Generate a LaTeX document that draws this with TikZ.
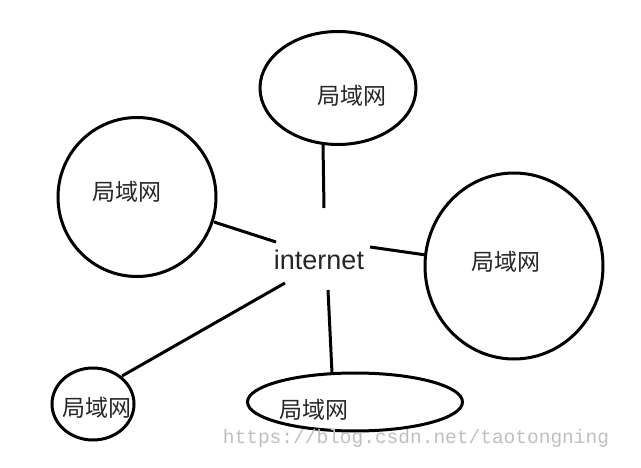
\documentclass[tikz,border=0pt]{standalone}
\usepackage{fontspec}
\setmainfont{Liberation Sans}
\newfontfamily\cjk{Noto Sans CJK SC}
\newfontfamily\wmono{Liberation Mono}
\usetikzlibrary{shapes.geometric}
\tikzset{
  lan/.style={draw=black, line width=3pt, ellipse, inner sep=0pt},
  lantext/.style={font=\cjk\fontsize{23}{23}\selectfont, text=black!85},
  link/.style={draw=black, line width=3pt},
}
\begin{document}
\begin{tikzpicture}[x=1pt,y=-1pt]
\useasboundingbox (0,0) rectangle (641,468);
% LAN shapes
\node[lan, minimum width=156pt, minimum height=113pt] (top) at (338,88) {};
\node[lan, minimum width=158pt, minimum height=159pt] (left) at (137,197) {};
\node[lan, minimum width=178pt, minimum height=186pt] (right) at (514,266) {};
\node[lan, minimum width=82pt, minimum height=72pt] (bl) at (93,404) {};
\node[lan, minimum width=215pt, minimum height=58pt] (bot) at (355,402) {};
% labels
\node[lantext] (ttop) at (352,96) {局域网};
\node[lantext] (tleft) at (127,192) {局域网};
\node[lantext] (tright) at (506,262) {局域网};
\node[lantext] (tbl) at (97,408) {局域网};
\node[lantext] (tbot) at (314,410) {局域网};
\node[font=\fontsize{27}{27}\selectfont, text=black!85] (inet) at (319,260) {internet};
% link end points near the internet label
\coordinate (ct) at (324,208);
\coordinate (cl) at (276,242);
\coordinate (cr) at (370,247);
\coordinate (cbl) at (285,283);
\coordinate (cb) at (328,290);
\coordinate (et) at (323,144);
\coordinate (el) at (214,222);
\coordinate (er) at (426,255);
\coordinate (ebl) at (122,376);
\coordinate (eb) at (332,373);
\draw[link] (et) -- (ct);
\draw[link] (el) -- (cl);
\draw[link] (cr) -- (er);
\draw[link] (cbl) -- (ebl);
\draw[link] (cb) -- (eb);
% watermark
\node[font=\wmono\fontsize{19.5}{19.5}\selectfont, text=black!25] (wm) at (416,438) {https://blog.csdn.net/taotongning};
\end{tikzpicture}
\end{document}
